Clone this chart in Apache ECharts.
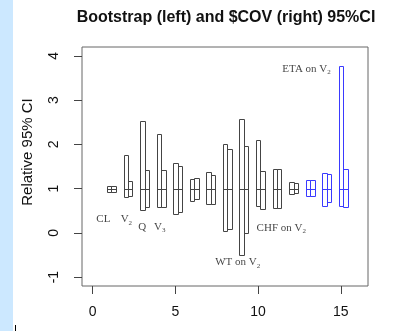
<!DOCTYPE html>
<html>
<head>
<meta charset="utf-8">
<script src="https://cdn.jsdelivr.net/npm/echarts@6/dist/echarts.min.js"></script>
<style>
  html, body { margin: 0; padding: 0; background: #fff; }
  #chart { width: 398px; height: 331px; }
</style>
</head>
<body>
<div id="chart"></div>
<script>
// one pair of intervals per parameter: bootstrap (left box) and $COV (right box)
const positions = [1, 2, 3, 4, 5, 6, 7, 8, 9, 10, 11, 12, 13, 14, 15];
const bootLow  = [0.92, 0.81, 0.51, 0.58, 0.43, 0.72, 0.66, 0.04, -0.50, 0.61, 0.57, 0.87, 0.83, 0.60, 0.60];
const bootHigh = [1.06, 1.75, 2.52, 2.23, 1.57, 1.21, 1.38, 2.00, 2.57, 2.11, 1.45, 1.15, 1.19, 1.36, 3.76];
const covLow   = [0.92, 0.83, 0.59, 0.58, 0.48, 0.77, 0.66, 0.08, 0.00, 0.54, 0.57, 0.89, 0.83, 0.69, 0.58];
const covHigh  = [1.06, 1.17, 1.42, 1.41, 1.52, 1.25, 1.30, 1.90, 1.96, 1.39, 1.44, 1.13, 1.19, 1.33, 1.44];
const estimate = [1, 1, 1, 1, 1, 1, 1, 1, 1, 1, 1, 1, 1, 1, 1];
const boxColor = ["k", "k", "k", "k", "k", "k", "k", "k", "k", "k", "k", "k", "b", "b", "b"];

// annotations
const noteText = ["CL", "{m|V}{s|2}", "Q", "{m|V}{s|3}", "{m|WT on V}{s|2}", "{m|CHF on V}{s|2}", "{m|ETA on V}{s|2}"];
const noteX = [0.65, 2.04, 3.0, 4.06, 8.77, 11.4, 12.93];
const noteY = [0.31, 0.31, 0.12, 0.13, -0.67, 0.11, 3.70];

const xTicks = [0, 5, 10, 15];
const yTicks = [-1, 0, 1, 2, 3, 4];

const colors = { k: "#444", b: "#3a3aff" };

const chart = echarts.init(document.getElementById("chart"));

const crisp = (v) => Math.round(v) + 0.5;

function renderPair(params, api) {
  const x = api.value(0);
  const col = colors[boxColor[params.dataIndex]];
  const pt = (dx, v) => api.coord([x + dx, v]);
  const box = (x0, x1, lo, hi) => {
    const a = pt(x0, hi), b = pt(x1, lo);
    const left = crisp(a[0]), top = crisp(a[1]);
    return {
      type: "rect",
      shape: { x: left, y: top, width: crisp(b[0]) - left, height: crisp(b[1]) - top },
      style: { fill: "none", stroke: col, lineWidth: 1 },
    };
  };
  const m0 = pt(-0.13, api.value(5)), m1 = pt(0.41, api.value(5));
  return {
    type: "group",
    children: [
      box(-0.13, 0.14, api.value(1), api.value(2)),
      box(0.14, 0.41, api.value(3), api.value(4)),
      {
        type: "line",
        shape: { x1: crisp(m0[0]), y1: crisp(m0[1]), x2: crisp(m1[0]), y2: crisp(m1[1]) },
        style: { stroke: col, lineWidth: 1 },
      },
    ],
  };
}

const option = {
  animation: false,
  title: {
    text: "Bootstrap (left) and $COV (right) 95%CI",
    left: 221,
    top: 5,
    textAlign: "center",
    textStyle: { fontFamily: "Liberation Sans", fontSize: 16, fontWeight: "bold", color: "#111" },
  },
  graphic: [
    { type: "rect", left: 0, top: 0, shape: { width: 13, height: 331 }, style: { fill: "#cce8ff" } },
    { type: "line", shape: { x1: 15.5, y1: 325, x2: 15.5, y2: 331 }, style: { stroke: "#000", lineWidth: 1 } },
    {
      type: "text",
      x: 28,
      y: 152,
      rotation: Math.PI / 2,
      style: {
        text: "Relative 95% CI",
        fontFamily: "Liberation Sans",
        fontSize: 15,
        fill: "#111",
        align: "center",
        verticalAlign: "middle",
      },
    },
  ],
  grid: {
    left: 82,
    right: 30,
    top: 47,
    bottom: 45,
    show: true,
    borderColor: "#666",
    borderWidth: 1,
    backgroundColor: "#fff",
  },
  xAxis: {
    type: "value",
    min: -0.64,
    max: 16.64,
    splitLine: { show: false },
    axisLine: { show: false, onZero: false },
    axisTick: { show: true, customValues: xTicks, length: 8, lineStyle: { color: "#444" } },
    axisLabel: { customValues: xTicks, fontFamily: "Liberation Sans", fontSize: 14, color: "#111", margin: 19 },
  },
  yAxis: {
    type: "value",
    min: -1.2,
    max: 4.2,
    splitLine: { show: false },
    axisLine: { show: false, onZero: false },
    axisTick: { show: true, customValues: yTicks, length: 8, lineStyle: { color: "#444" } },
    axisLabel: { customValues: yTicks, rotate: 90, fontFamily: "Liberation Sans", fontSize: 14, color: "#111", margin: 21 },
  },
  series: [
    {
      type: "custom",
      renderItem: renderPair,
      data: positions.map((p, i) => [p, bootLow[i], bootHigh[i], covLow[i], covHigh[i], estimate[i]]),
      silent: true,
    },
    {
      type: "scatter",
      symbolSize: 0,
      silent: true,
      data: noteX.map((x, i) => [x, noteY[i]]),
      label: {
        show: true,
        position: "inside",
        formatter: (p) => noteText[p.dataIndex],
        fontFamily: "Liberation Serif",
        fontSize: 11,
        color: "#111",
        rich: {
          m: { fontFamily: "Liberation Serif", fontSize: 11, color: "#111", lineHeight: 14 },
          s: { fontFamily: "Liberation Serif", fontSize: 7, color: "#111", lineHeight: 14, padding: [7, 0, 0, 0] },
        },
      },
    },
  ],
};

chart.setOption(option);
</script>
</body>
</html>
